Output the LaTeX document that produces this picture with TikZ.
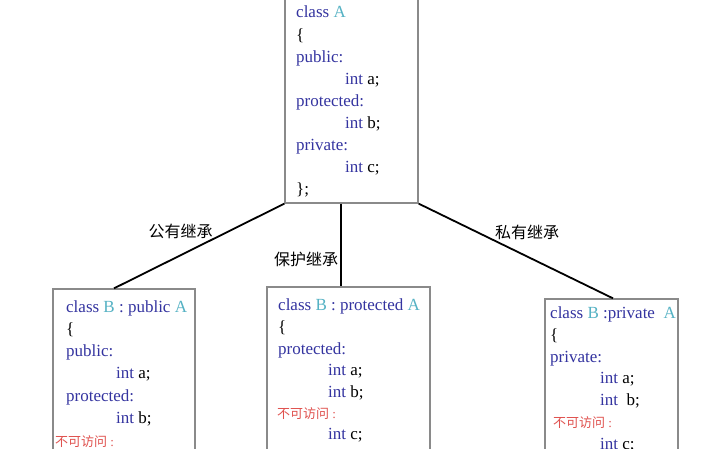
\documentclass[tikz,border=0pt]{standalone}
\usepackage{fontspec}
\setmainfont{Liberation Serif}
\newfontfamily\cjk{Noto Sans CJK SC}
\definecolor{kw}{HTML}{3434A0}
\definecolor{nm}{HTML}{55B2C4}
\definecolor{na}{HTML}{E0524F}
\definecolor{bx}{HTML}{8A8A8A}
\begin{document}
\begin{tikzpicture}[x=1pt,y=-1pt,
  box/.style={draw=bx,line width=1.3pt,fill=white,rectangle,inner sep=0pt},
  code/.style={anchor=base west,inner sep=0pt,font=\fontsize{17}{20}\selectfont},
  na/.style={anchor=base west,inner sep=0pt,text=na,font=\fontsize{13}{15}\selectfont},
  lab/.style={inner sep=0pt,font=\cjk\fontsize{16}{18}\selectfont},
  conn/.style={line width=1.8pt,black}]
\useasboundingbox[fill=white] (0,0) rectangle (719,449);
% boxes
\node[box,minimum width=133pt,minimum height=210pt] (A) at (351.5,98) {};
\node[box,minimum width=142pt,minimum height=171pt] (B1) at (124,374.5) {};
\node[box,minimum width=163pt,minimum height=173pt] (B2) at (348.5,373.5) {};
\node[box,minimum width=133pt,minimum height=161pt] (B3) at (611.5,379.5) {};
% connectors
\draw[conn] (A.south west) -- ([xshift=-10pt]B1.north);
\draw[conn] ([xshift=-10.5pt]A.south) -- ([xshift=-7.5pt]B2.north);
\draw[conn] (A.south east) -- ([xshift=1.5pt]B3.north);
% labels
\node[lab] (l1) at (180.5,231) {公有继承};
\node[lab] (l2) at (306,259) {保护继承};
\node[lab] (l3) at (527,232) {私有继承};
% class A
\node[code] (a1) at (296,18) {\textcolor{kw}{class} \textcolor{nm}{A}};
\node[code] (a2) at (296,40.1) {\{};
\node[code] (a3) at (296,62.2) {\textcolor{kw}{public:}};
\node[code] (a4) at (345,84.3) {\textcolor{kw}{int} a;};
\node[code] (a5) at (296,106.4) {\textcolor{kw}{protected:}};
\node[code] (a6) at (345,128.5) {\textcolor{kw}{int} b;};
\node[code] (a7) at (296,150.6) {\textcolor{kw}{private:}};
\node[code] (a8) at (345,172.7) {\textcolor{kw}{int} c;};
\node[code] (a9) at (296,194.8) {\};};
% class B public
\node[code] (b1) at (66,312) {\textcolor{kw}{class} \textcolor{nm}{B} \textcolor{kw}{: public} \textcolor{nm}{A}};
\node[code] (b2) at (66,334.3) {\{};
\node[code] (b3) at (66,356.6) {\textcolor{kw}{public:}};
\node[code] (b4) at (116,378.9) {\textcolor{kw}{int} a;};
\node[code] (b5) at (66,401.2) {\textcolor{kw}{protected:}};
\node[code] (b6) at (116,423.5) {\textcolor{kw}{int} b;};
\node[na] (b7) at (55,446) {{\cjk 不可访问} :};
% class B protected
\node[code] (c1) at (278,310) {\textcolor{kw}{class} \textcolor{nm}{B} \textcolor{kw}{: protected} \textcolor{nm}{A}};
\node[code] (c2) at (278,332) {\{};
\node[code] (c3) at (278,354) {\textcolor{kw}{protected:}};
\node[code] (c4) at (328,375.5) {\textcolor{kw}{int} a;};
\node[code] (c5) at (328,397) {\textcolor{kw}{int} b;};
\node[na] (c6) at (277,418.5) {{\cjk 不可访问} :};
\node[code] (c7) at (328,439) {\textcolor{kw}{int} c;};
% class B private
\node[code] (d1) at (550,318) {\textcolor{kw}{class} \textcolor{nm}{B} \textcolor{kw}{:private}\ \ \textcolor{nm}{A}};
\node[code] (d2) at (550,340) {\{};
\node[code] (d3) at (550,362) {\textcolor{kw}{private:}};
\node[code] (d4) at (600,383.5) {\textcolor{kw}{int} a;};
\node[code] (d5) at (600,405) {\textcolor{kw}{int}\ \ b;};
\node[na] (d6) at (553,427.5) {{\cjk 不可访问} :};
\node[code] (d7) at (600,449) {\textcolor{kw}{int} c;};
\end{tikzpicture}
\end{document}
